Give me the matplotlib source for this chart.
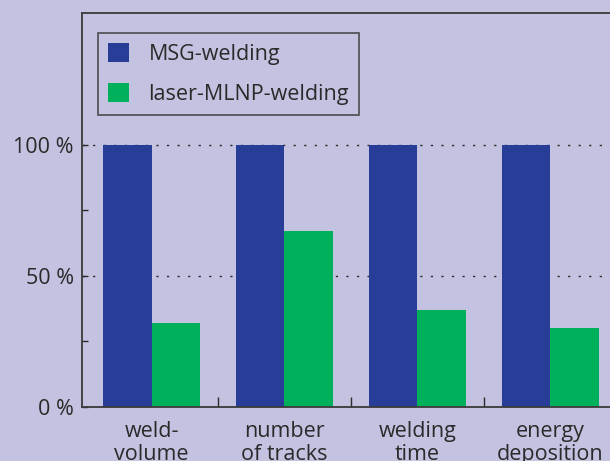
import matplotlib
matplotlib.use("Agg")
import matplotlib.pyplot as plt
from matplotlib.patches import Patch
import numpy as np

# relative effort, MSG welding = 100 %
categories = ["weld-\nvolume", "number\nof tracks", "welding\ntime", "energy\ndeposition"]
msg_welding = [100, 100, 100, 100]
laser_mlnp_welding = [32, 67, 37, 30]
series_names = ["MSG-welding", "laser-MLNP-welding"]
yticks = [0, 50, 100]
ytick_labels = ["0 %", "50 %", "100 %"]

bg = "#c3c2e0"
blue = "#283d98"
green = "#00b05a"
ink = "#2a2a2a"

plt.rcParams["font.family"] = ["Open Sans", "DejaVu Sans"]

fig = plt.figure(figsize=(6.10, 4.61), dpi=100, facecolor=bg)
ax = fig.add_axes([0.1344, 0.1178, 0.898, 0.8547], facecolor=bg)

x = np.arange(len(categories))
w = 0.365
ax.bar(x - w / 2, msg_welding, w, color=blue, zorder=2)
ax.bar(x + w / 2, laser_mlnp_welding, w, color=green, zorder=2)

ax.set_xlim(-0.523, 3.597)
ax.set_ylim(0, 150.5)

# dotted guide lines at the labelled levels
for y in yticks[1:]:
    ax.axhline(y, color=ink, lw=1.0, linestyle=(0, (1.6, 6.0)), zorder=1)

ax.set_yticks(yticks)
ax.set_yticklabels(ytick_labels)
ax.set_yticks([25, 75], minor=True)
ax.tick_params(axis="y", which="both", direction="in", length=4, width=1.0,
               color=ink, labelsize=15.5, labelcolor=ink, pad=6)

# category names sit under the groups, ticks mark the group boundaries
ax.set_xticks([])
ax.set_xticks([0.5, 1.5, 2.5], minor=True)
ax.tick_params(axis="x", which="minor", direction="in", length=7, width=1.0, color=ink)
for xi, lab in zip(x, categories):
    ax.text(xi, -5.3, lab, ha="center", va="top", fontsize=15.5, color=ink,
            linespacing=1.15, clip_on=False)

for side in ["left", "bottom", "top"]:
    ax.spines[side].set_color("#3a3a3a")
    ax.spines[side].set_linewidth(1.3)
ax.spines["right"].set_visible(False)

handles = [Patch(facecolor=blue, edgecolor="none"), Patch(facecolor=green, edgecolor="none")]
leg = fig.legend(handles, series_names, loc="upper left",
                 bbox_to_anchor=(98 / 610, 1 - 33 / 461), borderaxespad=0,
                 fontsize=15.5, frameon=True, fancybox=False,
                 handlelength=1.0, handleheight=1.0, handletextpad=0.9,
                 labelspacing=0.85, borderpad=0.45, labelcolor=ink)
leg.get_frame().set_facecolor("none")
leg.get_frame().set_edgecolor("#3a3a3a")
leg.get_frame().set_linewidth(1.3)

fig.savefig("out.png", dpi=100, facecolor=bg)
